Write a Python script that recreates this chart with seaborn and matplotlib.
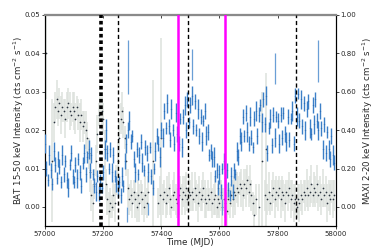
import numpy as np
import matplotlib
matplotlib.use("Agg")
import matplotlib.pyplot as plt
import seaborn as sns

nan = np.nan

mjd = np.arange(57000, 58000, 5)

bat_rate = [
    nan, 0.040, nan, nan, nan, 0.012, 0.022, 0.026, 0.028, 0.025,              # 57000
    0.027, 0.024, 0.026, 0.025, 0.023, 0.026, 0.027, 0.025, 0.024, 0.026,      # 57050
    0.025, 0.023, 0.026, 0.024, 0.022, 0.024, 0.021, 0.022, 0.020, 0.018,      # 57100
    0.014, 0.009, 0.003, 0.001, 0.006, 0.012, 0.019, 0.024, 0.026, 0.025,      # 57150
    0.023, 0.015, 0.006, 0.002, -0.001, 0.001, 0.000, 0.003, 0.001, 0.007,     # 57200
    0.012, 0.018, 0.023, 0.025, 0.022, 0.018, 0.012, 0.005, 0.002, 0.003,      # 57250
    0.001, 0.004, 0.002, 0.000, 0.003, 0.001, 0.004, 0.002, 0.000, 0.003,      # 57300
    0.001, 0.004, nan, nan, 0.012, nan, nan, nan, 0.001, 0.003,                # 57350
    0.018, 0.002, 0.004, 0.001, 0.003, 0.005, 0.002, 0.000, 0.003, 0.004,      # 57400
    0.002, 0.001, 0.003, 0.005, 0.002, 0.004, 0.003, 0.005, 0.002, 0.004,      # 57450
    0.003, 0.004, 0.002, 0.005, 0.003, 0.001, 0.004, 0.002, 0.003, 0.005,      # 57500
    0.002, 0.001, 0.003, 0.002, 0.004, 0.001, 0.002, 0.003, 0.000, 0.002,      # 57550
    0.001, 0.003, 0.000, 0.002, 0.001, -0.001, 0.002, 0.001, 0.003, 0.002,     # 57600
    0.004, 0.003, 0.005, 0.004, 0.006, 0.005, 0.003, 0.006, 0.005, 0.007,      # 57650
    0.004, 0.006, 0.003, 0.001, -0.002, 0.002, nan, 0.000, nan, 0.012,         # 57700
    nan, 0.003, 0.015, 0.002, 0.004, 0.001, 0.003, 0.005, 0.002, 0.004,        # 57750
    0.003, 0.005, 0.002, 0.004, 0.003, 0.001, 0.004, 0.003, 0.005, 0.002,      # 57800
    0.003, 0.001, 0.002, 0.000, 0.002, 0.001, 0.003, 0.002, 0.004, 0.003,      # 57850
    0.005, 0.003, 0.004, 0.006, 0.003, 0.005, 0.004, 0.006, 0.003, 0.004,      # 57900
    0.002, 0.005, 0.003, 0.004, 0.001, 0.003, 0.002, 0.004, 0.002, 0.003,      # 57950
]
bat_err = [
    0.004, 0.012, 0.004, 0.004, 0.004, 0.016, 0.005, 0.004, 0.005, 0.004,
    0.004, 0.005, 0.004, 0.003, 0.005, 0.004, 0.004, 0.005, 0.003, 0.004,
    0.005, 0.004, 0.003, 0.004, 0.005, 0.004, 0.004, 0.003, 0.005, 0.004,
    0.004, 0.005, 0.004, 0.005, 0.004, 0.004, 0.005, 0.003, 0.004, 0.005,
    0.004, 0.005, 0.004, 0.004, 0.005, 0.004, 0.003, 0.004, 0.005, 0.004,
    0.005, 0.004, 0.004, 0.005, 0.004, 0.003, 0.004, 0.005, 0.004, 0.004,
    0.004, 0.003, 0.005, 0.004, 0.004, 0.005, 0.003, 0.004, 0.004, 0.005,
    0.004, 0.004, 0.004, 0.004, 0.021, 0.004, 0.004, 0.004, 0.004, 0.005,
    0.026, 0.004, 0.003, 0.004, 0.005, 0.004, 0.004, 0.003, 0.004, 0.005,
    0.004, 0.004, 0.005, 0.003, 0.004, 0.004, 0.005, 0.004, 0.003, 0.004,
    0.004, 0.005, 0.003, 0.004, 0.004, 0.005, 0.004, 0.003, 0.004, 0.004,
    0.005, 0.004, 0.004, 0.003, 0.005, 0.004, 0.004, 0.005, 0.003, 0.004,
    0.004, 0.004, 0.005, 0.003, 0.004, 0.005, 0.004, 0.004, 0.003, 0.005,
    0.004, 0.005, 0.004, 0.004, 0.003, 0.005, 0.004, 0.004, 0.005, 0.004,
    0.004, 0.005, 0.004, 0.003, 0.005, 0.004, 0.004, 0.006, 0.004, 0.018,
    0.004, 0.004, 0.020, 0.004, 0.005, 0.003, 0.004, 0.004, 0.005, 0.004,
    0.004, 0.003, 0.005, 0.004, 0.004, 0.005, 0.003, 0.004, 0.004, 0.005,
    0.004, 0.005, 0.004, 0.003, 0.004, 0.005, 0.004, 0.004, 0.003, 0.004,
    0.005, 0.004, 0.004, 0.005, 0.003, 0.004, 0.004, 0.005, 0.004, 0.004,
    0.004, 0.005, 0.003, 0.004, 0.005, 0.004, 0.004, 0.003, 0.005, 0.004,
]

maxi_rate = [
    0.33, 0.20, 0.14, 0.27, 0.19, 0.12, 0.29, 0.22, 0.15, 0.25,   # 57000
    0.21, 0.13, 0.27, 0.17, 0.24, 0.14, 0.10, 0.22, 0.28, 0.16,   # 57050
    0.13, 0.22, 0.15, 0.25, 0.18, 0.11, 0.23, 0.28, 0.17, 0.26,   # 57100
    0.30, 0.19, 0.27, 0.17, 0.11, 0.08, 0.16, 0.07, 0.13, 0.10,   # 57150
    0.18, 0.30, 0.40, 0.28, 0.20, 0.30, 0.18, 0.27, 0.16, 0.12,   # 57200
    0.09, 0.13, 0.06, 0.16, 0.11, 0.24, 0.33, 0.40, 0.45, 0.34,   # 57250
    0.37, 0.25, 0.18, 0.30, 0.17, 0.27, 0.34, 0.23, 0.19, 0.31,   # 57300
    0.28, 0.18, 0.31, 0.16, 0.10, 0.20, 0.29, 0.37, 0.33, 0.26,   # 57350
    0.40, 0.36, 0.50, 0.41, 0.54, 0.42, 0.35, 0.51, 0.40, 0.33,   # 57400
    0.49, 0.38, 0.33, 0.46, 0.31, 0.47, 0.53, 0.40, 0.56, 0.44,   # 57450
    0.53, 0.58, 0.42, 0.55, 0.40, 0.51, 0.37, 0.47, 0.34, 0.45,   # 57500
    0.50, 0.37, 0.39, 0.27, 0.29, 0.25, 0.26, 0.16, 0.19, 0.10,   # 57550
    0.17, 0.08, 0.20, 0.24, 0.15, 0.19, 0.09, 0.06, 0.16, 0.08,   # 57600
    0.19, 0.17, 0.29, 0.26, 0.37, 0.34, 0.47, 0.37, 0.49, 0.39,   # 57650
    0.33, 0.47, 0.36, 0.31, 0.46, 0.50, 0.37, 0.48, 0.53, 0.44,   # 57700
    0.56, 0.43, 0.58, 0.28, 0.41, 0.46, 0.32, 0.48, 0.36, 0.47,   # 57750
    0.45, 0.33, 0.48, 0.36, 0.49, 0.38, 0.34, 0.47, 0.35, 0.46,   # 57800
    0.50, 0.33, 0.58, 0.47, 0.59, 0.45, 0.56, 0.42, 0.54, 0.40,   # 57850
    0.51, 0.55, 0.41, 0.38, 0.53, 0.43, 0.56, 0.45, 0.40, 0.50,   # 57900
    0.41, 0.30, 0.43, 0.28, 0.39, 0.30, 0.25, 0.37, 0.27, 0.23,   # 57950
]
maxi_err = [
    0.05, 0.04, 0.03, 0.05, 0.04, 0.03, 0.05, 0.04, 0.03, 0.04,
    0.04, 0.03, 0.05, 0.04, 0.03, 0.04, 0.05, 0.03, 0.04, 0.04,
    0.03, 0.04, 0.05, 0.03, 0.04, 0.04, 0.03, 0.05, 0.04, 0.03,
    0.05, 0.04, 0.04, 0.03, 0.04, 0.05, 0.03, 0.04, 0.04, 0.03,
    0.04, 0.05, 0.06, 0.04, 0.03, 0.04, 0.05, 0.04, 0.03, 0.04,
    0.04, 0.03, 0.04, 0.05, 0.03, 0.04, 0.05, 0.04, 0.05, 0.04,
    0.03, 0.04, 0.05, 0.04, 0.03, 0.04, 0.04, 0.05, 0.03, 0.04,
    0.04, 0.05, 0.03, 0.04, 0.04, 0.03, 0.05, 0.04, 0.04, 0.05,
    0.04, 0.05, 0.04, 0.03, 0.05, 0.04, 0.04, 0.05, 0.03, 0.04,
    0.05, 0.04, 0.04, 0.03, 0.05, 0.04, 0.05, 0.04, 0.04, 0.03,
    0.04, 0.05, 0.04, 0.04, 0.03, 0.05, 0.04, 0.04, 0.05, 0.03,
    0.04, 0.05, 0.04, 0.03, 0.04, 0.04, 0.05, 0.03, 0.04, 0.04,
    0.05, 0.04, 0.03, 0.04, 0.05, 0.04, 0.04, 0.03, 0.05, 0.04,
    0.04, 0.03, 0.05, 0.04, 0.04, 0.05, 0.04, 0.03, 0.04, 0.05,
    0.04, 0.05, 0.04, 0.03, 0.04, 0.05, 0.04, 0.04, 0.03, 0.05,
    0.04, 0.04, 0.05, 0.04, 0.03, 0.05, 0.04, 0.04, 0.05, 0.03,
    0.04, 0.05, 0.04, 0.04, 0.03, 0.04, 0.05, 0.04, 0.04, 0.03,
    0.05, 0.04, 0.04, 0.05, 0.03, 0.04, 0.05, 0.04, 0.04, 0.05,
    0.04, 0.04, 0.05, 0.03, 0.04, 0.05, 0.04, 0.04, 0.05, 0.04,
    0.04, 0.05, 0.04, 0.04, 0.03, 0.05, 0.04, 0.04, 0.05, 0.04,
]

# isolated MAXI points that stand out from the band
maxi_out_mjd = [57281, 57285, 57355, 57505, 57610, 57790, 57940]
maxi_out_rate = [-0.04, 0.73, -0.01, 0.74, 0.00, 0.72, 0.76]
maxi_out_err = [0.04, 0.14, 0.03, 0.08, 0.04, 0.08, 0.11]

# marked epochs
dotted_epochs = [57192]
dashed_epochs = [57250, 57492, 57862]
magenta_epochs = [57458, 57620]

sns.set_style("ticks")
plt.rcParams["font.family"] = ["DejaVu Sans"]
plt.rcParams["xtick.labelsize"] = 5
plt.rcParams["ytick.labelsize"] = 5

fig = plt.figure(figsize=(3.74, 2.49), dpi=100)
ax = fig.add_axes([0.12, 0.092, 0.778, 0.848])
ax2 = ax.twinx()

# BAT on the left axis
ax.errorbar(mjd, bat_rate, yerr=bat_err, fmt="none", ecolor="#dde1dd",
            elinewidth=1.1, zorder=1)
sns.scatterplot(x=mjd, y=bat_rate, ax=ax, s=1.5, color="#2b3440",
                linewidth=0, zorder=2)

# MAXI on the right axis
ax2.errorbar(mjd, maxi_rate, yerr=maxi_err, fmt="none", ecolor="#3d80c8",
             elinewidth=1.0, zorder=3)
ax2.errorbar(maxi_out_mjd, maxi_out_rate, yerr=maxi_out_err, fmt="none",
             ecolor="#6a9fd6", elinewidth=0.9, zorder=3)
sns.scatterplot(x=mjd, y=maxi_rate, ax=ax2, s=1.0, color="#2f6fb5",
                linewidth=0, zorder=4)

for t in dotted_epochs:
    ax2.axvline(t, color="black", lw=2.6, ls=(0, (1, 0.8)), zorder=5)
for t in dashed_epochs:
    ax2.axvline(t, color="black", lw=1.0, ls=(0, (3, 2)), zorder=5)
for t in magenta_epochs:
    ax2.axvline(t, color="magenta", lw=1.8, zorder=5)

ax.set_xlim(57000, 58000)
ax.set_ylim(-0.005, 0.05)
ax2.set_ylim(-0.1, 1.0)
ax.set_xticks([57000, 57200, 57400, 57600, 57800, 58000])
ax.set_yticks([0.00, 0.01, 0.02, 0.03, 0.04, 0.05])
ax.set_yticklabels(["0.00", "0.01", "0.02", "0.03", "0.04", "0.05"])
ax2.set_yticks([0.0, 0.2, 0.4, 0.6, 0.8, 1.0])
ax2.set_yticklabels(["0.00", "0.20", "0.40", "0.60", "0.80", "1.00"])

ax.set_xlabel("Time (MJD)", fontsize=6.3, labelpad=1)
ax.set_ylabel("BAT 15-50 keV Intensity (cts cm$^{-2}$ s$^{-1}$)", fontsize=6.2, labelpad=-1)
ax2.set_ylabel("MAXI 2-20 keV Intensity (cts cm$^{-2}$ s$^{-1}$)", fontsize=6.2, labelpad=3)

for a in (ax, ax2):
    a.tick_params(length=2, width=0.6, pad=1.5)
    for side in ("left", "right", "bottom"):
        a.spines[side].set_color("black")
        a.spines[side].set_linewidth(0.8)
    a.spines["top"].set_visible(True)
    a.spines["top"].set_color("#8a8a8a")
    a.spines["top"].set_linewidth(1.5)

top = ax.secondary_xaxis("top")
top.set_xticks([57200, 57400, 57600, 57800])
top.tick_params(direction="in", length=2, width=0.6, labeltop=False)
top.spines["top"].set_color("#8a8a8a")
top.spines["top"].set_linewidth(1.5)

fig.savefig("out.png", dpi=100)
